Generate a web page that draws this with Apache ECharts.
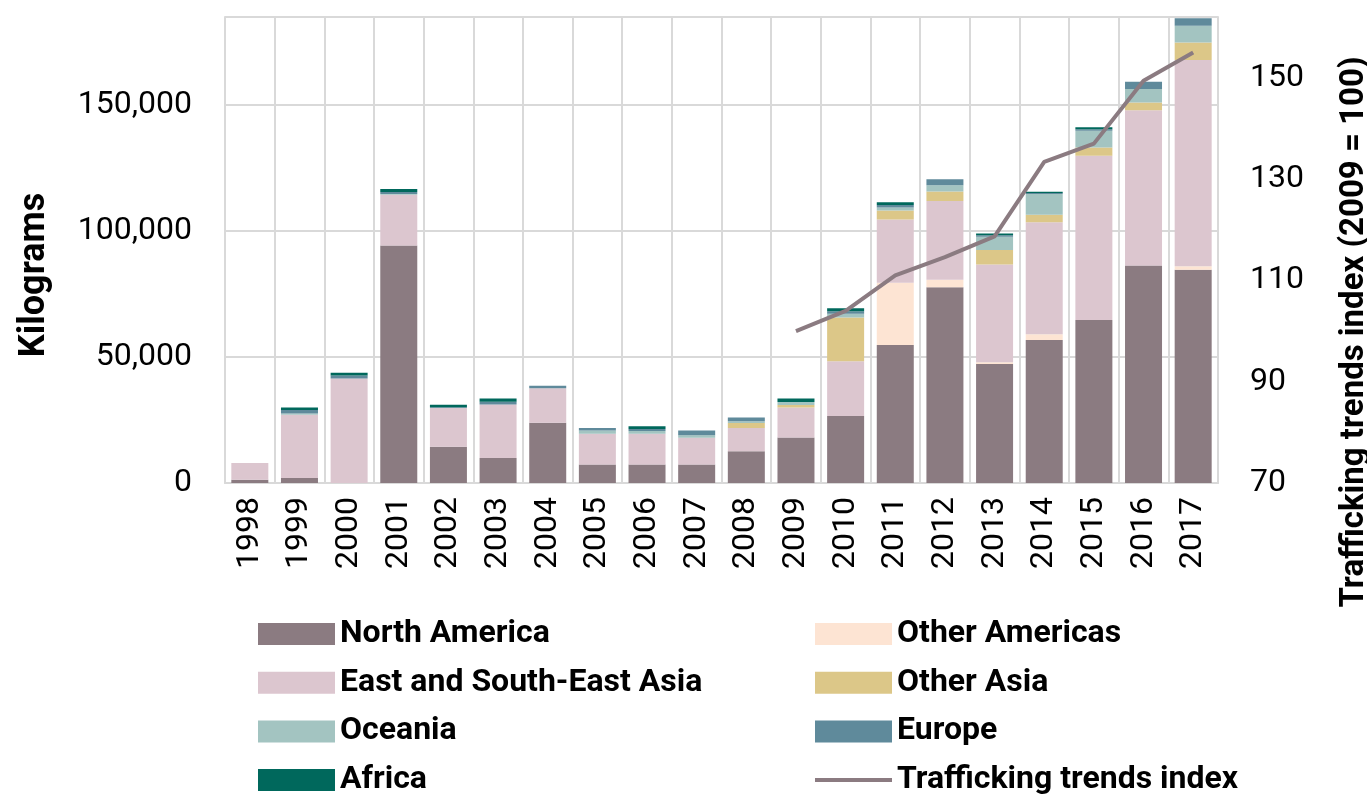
<!DOCTYPE html>
<html>
<head>
<meta charset="utf-8">
<script src="https://cdn.jsdelivr.net/npm/echarts@6/dist/echarts.min.js"></script>
<style>
  html, body { margin: 0; padding: 0; background: #fff; }
  #chart { width: 1367px; height: 795px; }
</style>
</head>
<body>
<div id="chart"></div>
<script>
// data (kilograms per region, index 2009 = 100)
var years = ['1998', '1999', '2000', '2001', '2002', '2003', '2004', '2005', '2006', '2007',
  '2008', '2009', '2010', '2011', '2012', '2013', '2014', '2015', '2016', '2017'];
var northAmerica = [1300, 2000, 0, 94300, 14400, 9900, 23900, 7300, 7300, 7300,
  12600, 18100, 26600, 54800, 77700, 47200, 56800, 64700, 86300, 84700];
var otherAmericas = [0, 0, 0, 0, 0, 0, 0, 0, 0, 0,
  0, 0, 0, 24700, 3000, 700, 2300, 0, 0, 1300];
var eastAsia = [6600, 25100, 41500, 20100, 15400, 21300, 13700, 12300, 12300, 10700,
  9200, 11900, 21700, 25100, 31300, 38800, 44400, 65200, 61700, 81900];
var otherAsia = [0, 0, 0, 0, 0, 0, 0, 0, 0, 0,
  2000, 1000, 17400, 3600, 3700, 5800, 3000, 3300, 3100, 7000];
var oceania = [0, 500, 0, 300, 0, 0, 0, 1200, 1000, 1000,
  700, 1200, 1500, 1200, 2500, 5300, 8200, 6600, 5300, 6600];
var europe = [0, 1400, 1200, 800, 300, 1100, 1000, 1000, 800, 1800,
  1500, 0, 1000, 1000, 2400, 600, 400, 600, 2900, 3000];
var africa = [0, 1000, 1100, 1200, 1000, 1200, 0, 0, 1100, 0,
  0, 1300, 1200, 1100, 0, 700, 500, 800, 0, 0];
var trendIndex = [null, null, null, null, null, null, null, null, null, null,
  null, 100, 104, 111, 114.6, 118.7, 133.4, 137, 149.4, 155];
var kgTicks = [0, 50000, 100000, 150000];

var myChart = echarts.init(document.getElementById('chart'));

var font = 'Roboto';
var gridGray = '#d9d9d9';
var lineColor = '#8b7b81';

function barSeries(name, data, color) {
  return {
    name: name,
    type: 'bar',
    stack: 'kg',
    barWidth: 37,
    itemStyle: { color: color },
    data: data
  };
}

var legendText = { fontFamily: font, fontSize: 32, fontWeight: 'bold', color: '#000', lineHeight: 30 };

var option = {
  animation: false,
  grid: { left: 225, right: 149, top: 17, bottom: 312, outerBoundsMode: 'none' },
  legend: [
    {
      orient: 'vertical', left: 258, top: 618, height: 200, padding: 0,
      itemWidth: 77, itemHeight: 22, itemGap: 16.7, icon: 'rect',
      textStyle: legendText,
      data: ['North America', 'East and South-East Asia', 'Oceania', 'Africa']
    },
    {
      orient: 'vertical', left: 815, top: 618, height: 200, padding: 0,
      itemWidth: 77, itemHeight: 22, itemGap: 16.7,
      textStyle: legendText,
      data: [
        { name: 'Other Americas', icon: 'rect' },
        { name: 'Other Asia', icon: 'rect' },
        { name: 'Europe', icon: 'rect' },
        { name: 'Trafficking trends index', icon: 'path://M0,0H77V4H0Z', itemStyle: { color: lineColor } }
      ]
    }
  ],
  xAxis: {
    type: 'category',
    data: years,
    boundaryGap: true,
    axisLine: { lineStyle: { color: gridGray, width: 2 } },
    axisTick: { show: false },
    splitLine: { show: true, lineStyle: { color: gridGray, width: 2 } },
    axisLabel: { rotate: 90, margin: 14, fontFamily: font, fontSize: 32, color: '#000' }
  },
  yAxis: [
    {
      type: 'value',
      min: kgTicks[0],
      max: 185000,
      interval: kgTicks[1] - kgTicks[0],
      name: 'Kilograms',
      nameLocation: 'middle',
      nameGap: 172,
      nameTextStyle: { fontFamily: font, fontSize: 36, fontWeight: 'bold', color: '#000', padding: [0, 50, 0, 0] },
      axisLine: { show: true, lineStyle: { color: gridGray, width: 2 } },
      axisTick: { show: false },
      splitLine: { lineStyle: { color: gridGray, width: 2 } },
      axisLabel: {
        margin: 33, fontFamily: font, fontSize: 32, color: '#000', showMaxLabel: false,
        formatter: function (v) { return v.toLocaleString('en-US'); }
      }
    },
    {
      type: 'value',
      min: 70,
      max: 162,
      interval: 20,
      position: 'right',
      name: 'Trafficking trends index (2009 = 100)',
      nameLocation: 'middle',
      nameGap: 120,
      nameRotate: 90,
      nameTextStyle: { fontFamily: font, fontSize: 33, fontWeight: 'bold', color: '#000', padding: [0, 164, 0, 0] },
      axisLine: { show: true, lineStyle: { color: gridGray, width: 2 } },
      axisTick: { show: false },
      splitLine: { show: false },
      axisLabel: { margin: 32, fontFamily: font, fontSize: 32, color: '#000', showMaxLabel: false }
    }
  ],
  series: [
    barSeries('North America', northAmerica, '#8b7b81'),
    barSeries('Other Americas', otherAmericas, '#fde4d3'),
    barSeries('East and South-East Asia', eastAsia, '#dcc6cf'),
    barSeries('Other Asia', otherAsia, '#dcc788'),
    barSeries('Oceania', oceania, '#a3c4c1'),
    barSeries('Europe', europe, '#5f8a9b'),
    barSeries('Africa', africa, '#00685c'),
    {
      name: 'Trafficking trends index',
      type: 'line',
      yAxisIndex: 1,
      symbol: 'none',
      lineStyle: { color: lineColor, width: 4 },
      itemStyle: { color: lineColor },
      data: trendIndex
    }
  ]
};

myChart.setOption(option);
</script>
</body>
</html>
